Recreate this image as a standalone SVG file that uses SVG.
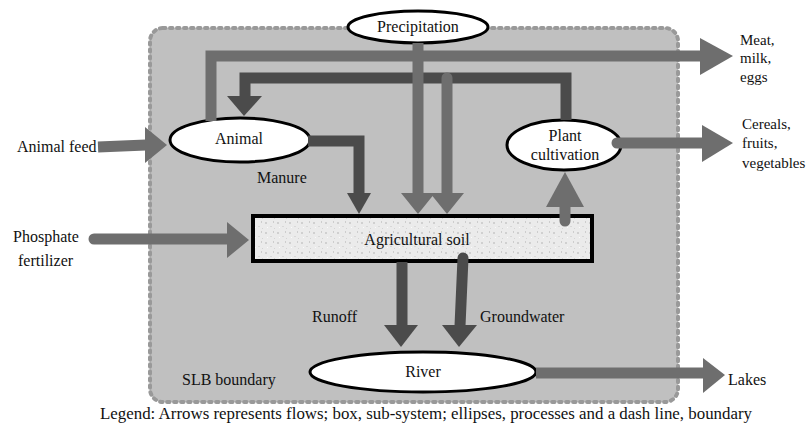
<svg xmlns="http://www.w3.org/2000/svg" width="809" height="423" viewBox="0 0 809 423">
  <style>
    .t { font-family: "Liberation Serif", "Times New Roman", serif; font-size: 16px; fill: #111; }
    .s { font-size: 15px; }
    .m { fill: none; stroke: #6e6e6e; stroke-width: 11; stroke-linejoin: miter; }
    .d { fill: none; stroke: #4b4b4b; stroke-width: 11; stroke-linejoin: miter; }
    .mh { fill: #6e6e6e; }
    .dh { fill: #4b4b4b; }
    .ell { fill: #ffffff; stroke: #000; stroke-width: 3; }
  </style>
  <defs>
    <pattern id="speckle" width="12" height="10" patternUnits="userSpaceOnUse">
      <rect width="12" height="10" fill="#ebebeb"/>
      <rect x="1" y="2" width="2" height="2" fill="#d0d0d0"/>
      <rect x="6" y="6" width="2" height="1" fill="#d8d8d8"/>
      <rect x="9" y="1" width="1" height="2" fill="#cdcdcd"/>
      <rect x="3" y="7" width="1" height="1" fill="#fafafa"/>
      <rect x="10" y="8" width="1" height="1" fill="#d4d4d4"/>
    </pattern>
  </defs>

  <rect id="boundary" x="150" y="28" width="528" height="374" rx="13" fill="#c0c0c0" stroke="#999999" stroke-width="4" stroke-dasharray="2.5 4.5" stroke-linecap="round"/>

  <g id="precipitation">
    <ellipse class="ell" cx="418" cy="27" rx="70" ry="16"/>
    <text class="t" x="418" y="32" text-anchor="middle">Precipitation</text>
  </g>
  <g id="animal">
    <ellipse class="ell" cx="240" cy="140" rx="70" ry="22"/>
    <text class="t" x="239" y="144" text-anchor="middle">Animal</text>
  </g>
  <g id="plant">
    <ellipse class="ell" cx="564" cy="145" rx="57" ry="25"/>
    <text class="t" x="565" y="141" text-anchor="middle">Plant</text>
    <text class="t" x="565" y="160" text-anchor="middle">cultivation</text>
  </g>
  <g id="soil">
    <rect x="253" y="216" width="339" height="45" fill="url(#speckle)" stroke="#000" stroke-width="4"/>
    <text class="t" x="417" y="245" text-anchor="middle">Agricultural soil</text>
  </g>
  <g id="river">
    <ellipse class="ell" cx="423" cy="372" rx="113" ry="20"/>
    <text class="t" x="423" y="377" text-anchor="middle">River</text>
  </g>

  <g id="connectors">
    <path class="d" d="M566,120 V78 H245 V97"/>
    <polygon class="dh" points="227,96 262,96 244,116"/>
    <path class="d" d="M308,141 H359 V194"/>
    <polygon class="dh" points="347,193 371,193 359,214"/>
    <path class="m" d="M211,121 V56 H701"/>
    <polygon class="mh" points="700,38 733,56 700,75"/>
    <path class="m" d="M418,43 V194"/>
    <polygon class="mh" points="401,193 435,193 418,214"/>
    <path class="m" d="M447,78 V194" stroke-linecap="round"/>
    <polygon class="mh" points="430,193 464,193 447,214"/>
    <path class="m" d="M565,221 V206" stroke-linecap="round"/>
    <polygon class="mh" points="546,207 584,207 565,172"/>
    <path class="m" d="M617,143 H703" stroke-linecap="round"/>
    <polygon class="mh" points="702,125 733,143 702,162"/>
    <path class="m" d="M98,147 L146,145"/>
    <polygon class="mh" points="145,127 167,145 145,163"/>
    <path class="m" d="M94,239 H228" stroke-linecap="round"/>
    <polygon class="mh" points="227,222 249,240 227,258"/>
    <path class="d" d="M402,262 V326"/>
    <polygon class="dh" points="384,325 418,325 401,347"/>
    <path class="d" d="M463,258 L460,326" stroke-linecap="round"/>
    <polygon class="dh" points="442,325 477,325 459,347"/>
    <path class="m" d="M536,373 H704" stroke-width="10"/>
    <polygon class="mh" points="703,358 725,375 703,393"/>
  </g>

  <g id="labels">
    <text class="t" x="257" y="183">Manure</text>
    <text class="t" x="312" y="322">Runoff</text>
    <text class="t" x="480" y="322">Groundwater</text>
    <text class="t" x="182" y="385">SLB boundary</text>
    <text class="t" x="17" y="152">Animal feed</text>
    <text class="t" x="13" y="242">Phosphate</text>
    <text class="t" x="18" y="266">fertilizer</text>
    <text class="t s" x="740" y="45">Meat,</text>
    <text class="t s" x="740" y="63">milk,</text>
    <text class="t s" x="740" y="82">eggs</text>
    <text class="t s" x="742" y="129">Cereals,</text>
    <text class="t s" x="742" y="148">fruits,</text>
    <text class="t s" x="742" y="168">vegetables</text>
    <text class="t" x="728" y="385">Lakes</text>
    <text class="t" x="100" y="419" textLength="652" lengthAdjust="spacingAndGlyphs">Legend:  Arrows represents flows; box, sub-system; ellipses, processes and a dash line, boundary</text>
  </g>
</svg>
